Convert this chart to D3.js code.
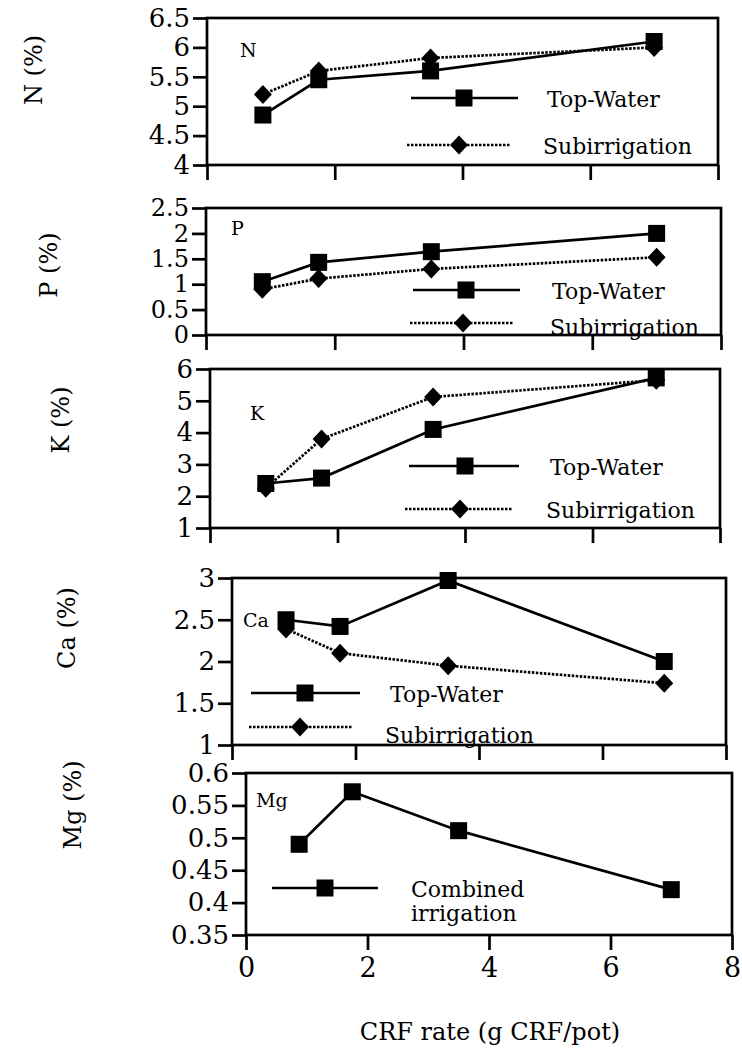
<!DOCTYPE html>
<html><head><meta charset="utf-8">
<script src="https://cdn.jsdelivr.net/npm/d3@7"></script>
<style>body{margin:0;background:#fff}svg{display:block}text{font-family:"DejaVu Serif","Liberation Serif",serif;fill:#000}</style>
</head><body>
<script>
// ---- data ----
const crfRate = [0.875, 1.75, 3.5, 7];
const xTicks = [0, 2, 4, 6, 8];
const nTopWater = [4.85, 5.45, 5.6, 6.1];
const nSubirrigation = [5.2, 5.6, 5.82, 6.0];
const pTopWater = [1.05, 1.43, 1.64, 2.0];
const pSubirrigation = [0.9, 1.11, 1.3, 1.53];
const kTopWater = [2.4, 2.57, 4.1, 5.72];
const kSubirrigation = [2.25, 3.8, 5.12, 5.65];
const caTopWater = [2.5, 2.42, 2.97, 2.0];
const caSubirrigation = [2.39, 2.1, 1.95, 1.74];
const mgCombined = [0.49, 0.571, 0.511, 0.42];
const nTicks = [4, 4.5, 5, 5.5, 6, 6.5];
const pTicks = [0, 0.5, 1, 1.5, 2, 2.5];
const kTicks = [1, 2, 3, 4, 5, 6];
const caTicks = [1, 1.5, 2, 2.5, 3];
const mgTicks = [0.35, 0.4, 0.45, 0.5, 0.55, 0.6];
const seriesNames = ["Top-Water", "Subirrigation"];
const combinedName = ["Combined", "irrigation"];
const xTitle = "CRF rate (g CRF/pot)";

// ---- layout ----
const panels = [
  {title:"N (%)", tag:"N", ticks:nTicks, series:[nTopWater, nSubirrigation],
   box:{l:207,r:718,t:18,b:165}, yt:[33,70], tagPos:[240,57], tickFont:26,
   leg:[{x1:411,x2:518,mx:464,y:98,tx:547,ty:107},{x1:407,x2:511,mx:459,y:145,tx:543,ty:154}]},
  {title:"P (%)", tag:"P", ticks:pTicks, series:[pTopWater, pSubirrigation],
   box:{l:206,r:721,t:208,b:335}, yt:[48,265], tagPos:[231,235], tickFont:24,
   leg:[{x1:413,x2:520,mx:466,y:290,tx:552,ty:299},{x1:410,x2:513,mx:463,y:323,tx:550,ty:335}]},
  {title:"K (%)", tag:"K", ticks:kTicks, series:[kTopWater, kSubirrigation],
   box:{l:210,r:720,t:369,b:528}, yt:[60,420], tagPos:[250,420], tickFont:26,
   leg:[{x1:409,x2:519,mx:465,y:466,tx:550,ty:475},{x1:405,x2:512,mx:460,y:509,tx:546,ty:518}]},
  {title:"Ca (%)", tag:"Ca", ticks:caTicks, series:[caTopWater, caSubirrigation],
   box:{l:232,r:726,t:578,b:745}, yt:[66,628], tagPos:[243,627], tickFont:26,
   leg:[{x1:251,x2:360,mx:305,y:693,tx:390,ty:702},{x1:249,x2:352,mx:300,y:727,tx:385,ty:743}]},
  {title:"Mg (%)", tag:"Mg", ticks:mgTicks, series:[mgCombined],
   box:{l:246,r:732,t:773,b:935}, yt:[72,805], tagPos:[256,807], tickFont:26,
   leg:[{x1:272,x2:378,mx:325,y:888,tx:411,ty:897,ty2:921}], last:true}
];

const svg = d3.select("body").append("svg").attr("width",742).attr("height",1059);

function square(g, x, y){
  g.append("rect").attr("x",x-8.5).attr("y",y-8.5).attr("width",17).attr("height",17).attr("fill","#000");
}
function diamond(g, x, y){
  g.append("path").attr("d",`M${x},${y-9.5}L${x+9},${y}L${x},${y+9.5}L${x-9},${y}Z`).attr("fill","#000");
}
const DOT = "2.5,1.5";
const SW = 2.7;

panels.forEach(p => {
  const b = p.box;
  const x = d3.scaleLinear().domain([0,8]).range([b.l,b.r]);
  const y = d3.scaleLinear().domain([p.ticks[0], p.ticks[p.ticks.length-1]]).range([b.b,b.t]);
  const g = svg.append("g");

  // series
  const line = d3.line().x((d,i)=>x(crfRate[i])).y(d=>y(d));
  p.series.forEach((s, si) => {
    const dotted = si === 1;
    g.append("path").datum(s).attr("d",line).attr("fill","none").attr("stroke","#000")
      .attr("stroke-width",SW).attr("stroke-dasharray",dotted?DOT:null);
    s.forEach((v,i)=>{ (dotted?diamond:square)(g, x(crfRate[i]), y(v)); });
  });

  // frame
  g.append("rect").attr("x",b.l).attr("y",b.t).attr("width",b.r-b.l).attr("height",b.b-b.t)
    .attr("fill","none").attr("stroke","#000").attr("stroke-width",SW);

  // y axis
  const ya = d3.axisLeft(y).tickValues(p.ticks).tickSize(14).tickPadding(3).tickFormat(d=>String(d));
  const yg = g.append("g").attr("transform",`translate(${b.l},0)`).call(ya);
  yg.attr("font-family",null);
  yg.select(".domain").remove();
  yg.selectAll("line").attr("stroke","#000").attr("stroke-width",SW);
  yg.selectAll("text").attr("font-size",p.tickFont).attr("fill","#000");

  // x axis
  const xa = d3.axisBottom(x).tickValues(xTicks).tickSize(15).tickPadding(8).tickFormat(p.last ? (d=>String(d)) : "");
  const xg = g.append("g").attr("transform",`translate(0,${b.b})`).call(xa);
  xg.attr("font-family",null);
  xg.select(".domain").remove();
  xg.selectAll("line").attr("stroke","#000").attr("stroke-width",SW);
  xg.selectAll("text").attr("font-size",27).attr("fill","#000");

  // y title
  g.append("text").attr("transform",`translate(${p.yt[0]+9},${p.yt[1]}) rotate(-90)`)
    .attr("text-anchor","middle").attr("font-size",24).text(p.title);

  // panel tag
  g.append("text").attr("x",p.tagPos[0]).attr("y",p.tagPos[1]).attr("font-size",19).text(p.tag);

  // legend
  p.leg.forEach((L, si) => {
    const dotted = p.series.length === 2 && si === 1;
    g.append("line").attr("x1",L.x1).attr("x2",L.x2).attr("y1",L.y).attr("y2",L.y)
      .attr("stroke","#000").attr("stroke-width",SW).attr("stroke-dasharray",dotted?DOT:null);
    (dotted?diamond:square)(g, L.mx, L.y);
    if (p.series.length === 2) {
      g.append("text").attr("x",L.tx).attr("y",L.ty).attr("font-size",22).text(seriesNames[si]);
    } else {
      g.append("text").attr("x",L.tx).attr("y",L.ty).attr("font-size",22).text(combinedName[0]);
      g.append("text").attr("x",L.tx).attr("y",L.ty2).attr("font-size",22).text(combinedName[1]);
    }
  });
});

svg.append("text").attr("x",490).attr("y",1040).attr("text-anchor","middle").attr("font-size",24).text(xTitle);
</script>
</body></html>
